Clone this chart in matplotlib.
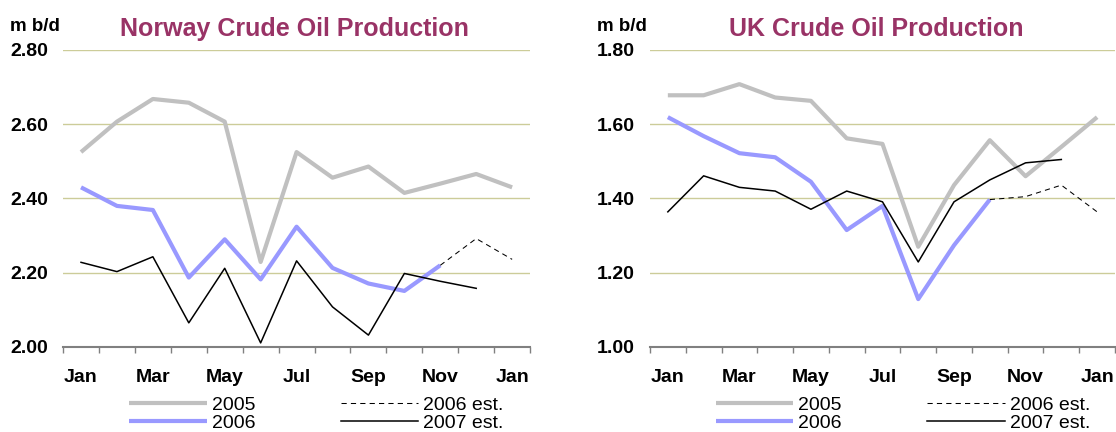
import numpy as np
import matplotlib
matplotlib.use('Agg')
import matplotlib.pyplot as plt

plt.rcParams['font.family'] = ['Liberation Sans', 'DejaVu Sans']

months = ['Jan', 'Feb', 'Mar', 'Apr', 'May', 'Jun', 'Jul', 'Aug', 'Sep', 'Oct', 'Nov', 'Dec', 'Jan']
nan = np.nan

norway_2005 = [2.525, 2.607, 2.668, 2.658, 2.607, 2.229, 2.525, 2.456, 2.486, 2.415, 2.440, 2.466, 2.430]
norway_2006 = [2.430, 2.380, 2.369, 2.187, 2.290, 2.182, 2.324, 2.213, 2.171, 2.151, 2.220]
norway_2006_est = [nan] * 10 + [2.220, 2.292, 2.236]
norway_2007_est = [2.228, 2.203, 2.243, 2.065, 2.212, 2.011, 2.232, 2.108, 2.032, 2.198, 2.177, 2.158]

uk_2005 = [1.678, 1.678, 1.708, 1.672, 1.663, 1.562, 1.547, 1.270, 1.436, 1.557, 1.460, 1.539, 1.619]
uk_2006 = [1.619, 1.568, 1.522, 1.511, 1.445, 1.315, 1.380, 1.129, 1.274, 1.397]
uk_2006_est = [nan] * 9 + [1.397, 1.405, 1.436, 1.364]
uk_2007_est = [1.364, 1.461, 1.430, 1.420, 1.371, 1.420, 1.391, 1.229, 1.391, 1.450, 1.496, 1.505]

title_color = '#993366'
grid_color = '#cccc99'


def draw_panel(ax, title, title_x, s2005, s2006, s2006e, s2007e, ymin, ymax, yticks):
    x = np.arange(len(months)) + 0.5
    ax.plot(x[:len(s2005)], s2005, color='#c0c0c0', lw=3.0, label='2005', solid_capstyle='butt')
    ax.plot(x[:len(s2006)], s2006, color='#9999ff', lw=3.0, label='2006', solid_capstyle='butt')
    ax.plot(x[:len(s2006e)], s2006e, color='black', lw=0.75, ls=(0, (5, 4)), label='2006 est.')
    ax.plot(x[:len(s2007e)], s2007e, color='black', lw=1.1, label='2007 est.')

    ax.set_xlim(0, len(months))
    ax.set_ylim(ymin, ymax)
    ax.set_yticks(yticks)
    ax.set_yticklabels(['%.2f' % v for v in yticks], fontsize=14, fontweight='bold')
    ax.tick_params(axis='y', length=0, pad=11)
    for v in yticks[1:]:
        ax.axhline(v, color=grid_color, lw=1.0, zorder=0)

    ax.set_xticks(np.arange(len(months) + 1))
    ax.set_xticklabels([])
    ax.set_xticks(x[::2], minor=True)
    ax.set_xticklabels(months[::2], minor=True, fontsize=14, fontweight='bold')
    ax.tick_params(axis='x', which='major', length=4.5, color='#808080', width=1)
    ax.tick_params(axis='x', which='minor', length=0, pad=16)

    for s in ['top', 'right', 'left']:
        ax.spines[s].set_visible(False)
    ax.spines['bottom'].set_color('#808080')
    ax.spines['bottom'].set_linewidth(1.5)

    ax.set_title(title, color=title_color, fontsize=18, fontweight='bold', pad=10, x=title_x)
    ax.text(-0.114, 1.05, 'm b/d', transform=ax.transAxes, fontsize=13.5, fontweight='bold',
            ha='left', va='bottom')

    handles, labels = ax.get_legend_handles_labels()
    ax.legend(handles, labels, ncol=2, loc='upper left', bbox_to_anchor=(0.141, -0.167),
              frameon=False, fontsize=14, handlelength=4.0, handletextpad=0.25,
              columnspacing=4.4, labelspacing=0.0, borderpad=0, borderaxespad=0)


fig = plt.figure(figsize=(11.16, 4.32), dpi=100)
ax1 = fig.add_axes([0.0565, 0.1968, 0.4185, 0.6875])
ax2 = fig.add_axes([0.5824, 0.1968, 0.4167, 0.6875])

draw_panel(ax1, 'Norway Crude Oil Production', 0.495, norway_2005, norway_2006, norway_2006_est,
           norway_2007_est, 2.0, 2.8, [2.0, 2.2, 2.4, 2.6, 2.8])
draw_panel(ax2, 'UK Crude Oil Production', 0.486, uk_2005, uk_2006, uk_2006_est, uk_2007_est,
           1.0, 1.8, [1.0, 1.2, 1.4, 1.6, 1.8])

fig.savefig('out.png', dpi=100)
